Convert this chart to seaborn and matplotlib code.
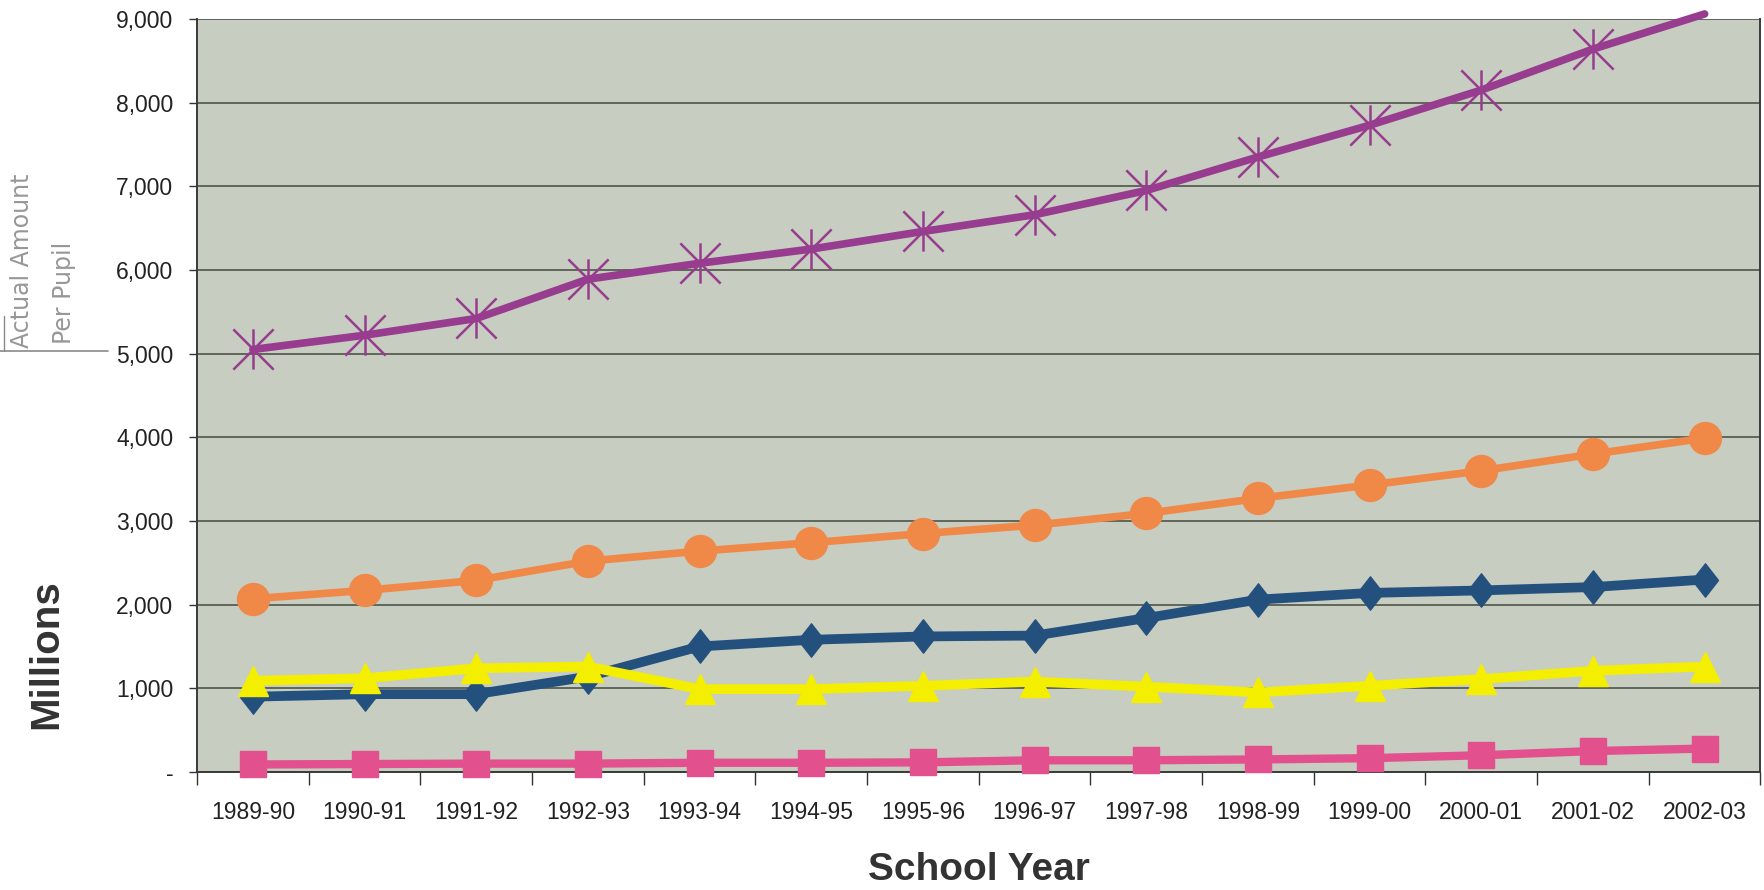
import numpy as np
import matplotlib
matplotlib.use("Agg")
import matplotlib.pyplot as plt
from matplotlib.ticker import FixedLocator, FuncFormatter
from matplotlib.lines import Line2D
from matplotlib.path import Path
import seaborn as sns

# ---- data -------------------------------------------------------------
years = ["1989-90", "1990-91", "1991-92", "1992-93", "1993-94", "1994-95",
         "1995-96", "1996-97", "1997-98", "1998-99", "1999-00", "2000-01",
         "2001-02", "2002-03"]

per_pupil = [5050, 5220, 5420, 5890, 6080, 6250, 6460, 6660, 6950, 7350,
             7730, 8150, 8640, 9060]          # purple, asterisks
orange_series = [2070, 2170, 2290, 2520, 2640, 2740, 2850, 2950, 3090,
                 3270, 3430, 3600, 3800, 3990]  # orange, circles
blue_series = [900, 930, 930, 1140, 1500, 1580, 1620, 1630, 1840, 2060,
               2140, 2170, 2210, 2300]          # navy, diamonds
yellow_series = [1090, 1120, 1240, 1260, 990, 990, 1030, 1080, 1020, 950,
                 1030, 1110, 1210, 1260]        # yellow, triangles
pink_series = [90, 95, 100, 100, 110, 110, 115, 140, 140, 150, 165, 200,
               250, 280]                        # pink, squares

y_ticks = [0, 1000, 2000, 3000, 4000, 5000, 6000, 7000, 8000, 9000]
y_max = 9000

# ---- marker shapes (Excel-like) --------------------------------------
star_path = Path([(0, -0.5), (0, 0.5), (-0.5, -0.5), (0.5, 0.5),
                  (-0.5, 0.5), (0.5, -0.5)],
                 [Path.MOVETO, Path.LINETO, Path.MOVETO, Path.LINETO,
                  Path.MOVETO, Path.LINETO])
diamond_path = Path([(0, 0.5), (0.39, 0), (0, -0.5), (-0.39, 0), (0, 0.5)],
                    [Path.MOVETO, Path.LINETO, Path.LINETO, Path.LINETO,
                     Path.CLOSEPOLY])

# ---- styling ----------------------------------------------------------
sns.set_theme(style="white")
plt.rcParams['font.family'] = ['Liberation Sans', 'DejaVu Sans']

fig = plt.figure(figsize=(17.64, 8.90), dpi=100)
ax = fig.add_axes([0.1117, 0.1326, 0.8863, 0.8461])
ax.set_facecolor("#c7cdc1")

series = [
    (per_pupil, "#973c8e", star_path, 29, 5.5, 1.8),
    (orange_series, "#f08848", "o", 23, 5.5, 1.0),
    (blue_series, "#24507e", diamond_path, 24, 7.0, 1.0),
    (yellow_series, "#f4ee00", "^", 21, 7.0, 1.0),
    (pink_series, "#e2518d", "s", 19, 6.0, 1.0),
]

for vals, col, mk, ms, lw, mew in series:
    shown = [i for i, v in enumerate(vals) if v <= y_max]
    sns.lineplot(x=years, y=vals, ax=ax, sort=False, color=col, linewidth=lw,
                 marker=mk, markersize=ms, markeredgewidth=mew,
                 markeredgecolor=col, markerfacecolor=col,
                 markevery=shown, clip_on=False, zorder=3,
                 solid_capstyle="round", solid_joinstyle="round")

ax.set_xlim(-0.5, len(years) - 0.5)
ax.set_ylim(0, y_max)

# grid
ax.set_yticks(y_ticks)
ax.yaxis.grid(True, color="#4e5448", linewidth=1.2)
ax.xaxis.grid(False)
ax.set_axisbelow(True)
ax.yaxis.set_major_formatter(FuncFormatter(lambda v, p: "-" if v == 0 else f"{int(v):,}"))
ax.tick_params(axis="y", which="major", length=6, width=1.0, color="#333333",
               labelsize=16.5, labelcolor="#222222", pad=11, left=True)

# x ticks: labels at category centres, tick marks at boundaries
ax.tick_params(axis="x", which="major", length=0, labelsize=16.5,
               labelcolor="#222222", pad=21)
ax.xaxis.set_minor_locator(FixedLocator(np.arange(-0.5, len(years), 1.0)))
ax.tick_params(axis="x", which="minor", length=9, width=1.0, color="#333333",
               bottom=True)

for side in ["left", "bottom", "right"]:
    ax.spines[side].set_color("#3a3a3a")
    ax.spines[side].set_linewidth(1.4)
ax.spines["top"].set_visible(False)

ax.set_xlabel("School Year", fontsize=28, fontweight="bold", color="#333333",
              labelpad=20)
ax.set_ylabel("")
fig.text(0.026, 0.265, "Millions", rotation=90, fontsize=29, fontweight="bold",
         color="#333333", ha="center", va="center")

# handwritten pencil note
fig.text(0.0125, 0.609, "Actual Amount", rotation=90, fontsize=17,
         color="#979797", ha="center", va="bottom", family=["DejaVu Sans"])
fig.text(0.036, 0.613, "Per Pupil", rotation=90, fontsize=17,
         color="#979797", ha="center", va="bottom", family=["DejaVu Sans"])
fig.add_artist(Line2D([0.0, 0.061], [0.606, 0.606], color="#8a8a8a",
                      linewidth=1.2, transform=fig.transFigure))
fig.add_artist(Line2D([0.0025, 0.0025], [0.606, 0.645], color="#8a8a8a",
                      linewidth=1.0, transform=fig.transFigure))

fig.savefig("out.png", dpi=100, facecolor="white")
